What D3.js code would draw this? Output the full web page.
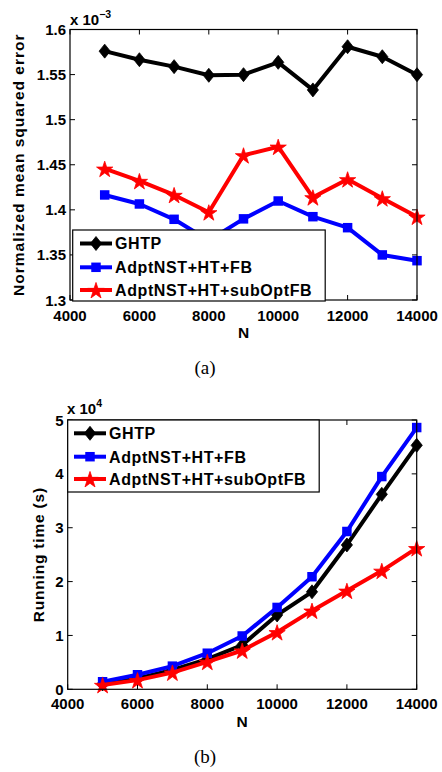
<!DOCTYPE html>
<html><head><meta charset="utf-8">
<script src="https://cdn.jsdelivr.net/npm/d3@7"></script>
<style>body{margin:0;background:#fff}svg{display:block}</style>
</head><body>
<svg id="c" width="442" height="772"></svg>
<script>
const N = [5000,6000,7000,8000,9000,10000,11000,12000,13000,14000];
const xTicks = [4000,6000,8000,10000,12000,14000];
// Top: normalized MSE (x 1e-3)
const nmseGHTP = [1.576,1.5665,1.5588,1.5492,1.5499,1.5636,1.533,1.5809,1.5698,1.5499];
const nmseFB   = [1.4165,1.4065,1.3895,1.366,1.390,1.4098,1.3924,1.3802,1.350,1.3436];
const nmseSub  = [1.4456,1.432,1.4165,1.3973,1.4605,1.470,1.4139,1.4339,1.4128,1.3924];
const nmseTicks = [1.3,1.35,1.4,1.45,1.5,1.55,1.6];
// Bottom: running time (x 1e4 s)
const timeGHTP = [0.10,0.20,0.36,0.56,0.82,1.38,1.81,2.68,3.62,4.53];
const timeFB   = [0.14,0.27,0.43,0.67,0.99,1.52,2.09,2.93,3.95,4.86];
const timeSub  = [0.08,0.17,0.31,0.51,0.72,1.06,1.46,1.83,2.20,2.62];
const timeTicks = [0,1,2,3,4,5];
const names = ["GHTP","AdptNST+HT+FB","AdptNST+HT+subOptFB"];
const colors = ["#000000","#0000ff","#ff0000"];
const shapes = ["diamond","square","star"];

const svg = d3.select("#c");
const FONT = "'Liberation Sans', Arial, Helvetica, sans-serif";

function marker(g, shape, color, x, y){
  if(shape==="diamond"){
    g.append("path").attr("d", "M0,-7L5.6,0L0,7L-5.6,0Z").attr("transform",`translate(${x},${y})`).attr("fill",color).attr("stroke",color).attr("stroke-width",0.8);
  } else if(shape==="square"){
    g.append("path").attr("d", d3.symbol(d3.symbolSquare, 90)()).attr("transform",`translate(${x},${y})`).attr("fill",color);
  } else {
    g.append("path").attr("d", d3.symbol(d3.symbolStar, 82)()).attr("transform",`translate(${x},${y+1})`).attr("fill",color).attr("stroke",color).attr("stroke-width",0.8);
  }
}

function panel(cfg){
  const {left,right,top,bottom,yDomain,yTicks,yFmt,series,ylabel,ylabelX,ylabelLS,exp,expPos,legend,xlabelY,tickY,caption,captionY} = cfg;
  const x = d3.scaleLinear().domain([4000,14000]).range([left,right]);
  const y = d3.scaleLinear().domain(yDomain).range([bottom,top]);
  const g = svg.append("g");
  const tl = 5;
  const tk = g.append("g").attr("stroke","#000").attr("stroke-width",1);
  xTicks.forEach(t=>{
    tk.append("line").attr("x1",x(t)).attr("x2",x(t)).attr("y1",bottom).attr("y2",bottom-tl);
    tk.append("line").attr("x1",x(t)).attr("x2",x(t)).attr("y1",top).attr("y2",top+tl);
  });
  yTicks.forEach(t=>{
    tk.append("line").attr("x1",left).attr("x2",left+tl).attr("y1",y(t)).attr("y2",y(t));
    tk.append("line").attr("x1",right).attr("x2",right-tl).attr("y1",y(t)).attr("y2",y(t));
  });
  const line = d3.line().x((d,i)=>x(N[i])).y(d=>y(d));
  series.forEach((s,k)=>{
    g.append("path").datum(s).attr("d",line).attr("fill","none").attr("stroke",colors[k]).attr("stroke-width",4).attr("stroke-linejoin","round");
    s.forEach((v,i)=>marker(g,shapes[k],colors[k],x(N[i]),y(v)));
  });
  g.append("rect").attr("x",left).attr("y",top).attr("width",right-left).attr("height",bottom-top).attr("fill","none").attr("stroke","#000").attr("stroke-width",1.2);
  xTicks.forEach(t=>{
    g.append("text").attr("x",x(t)).attr("y",tickY).attr("text-anchor","middle").attr("font-family",FONT).attr("font-weight","bold").attr("font-size",15).text(t);
  });
  yTicks.forEach(t=>{
    g.append("text").attr("x",left-4).attr("y",y(t)+5.5).attr("text-anchor","end").attr("font-family",FONT).attr("font-weight","bold").attr("font-size",15).text(yFmt(t));
  });
  g.append("text").attr("x",(left+right)/2).attr("y",xlabelY).attr("text-anchor","middle").attr("font-family",FONT).attr("font-weight","bold").attr("font-size",15.5).text("N");
  g.append("text").attr("transform",`translate(${ylabelX},${(top+bottom)/2}) rotate(-90)`).attr("text-anchor","middle").attr("font-family",FONT).attr("font-weight","bold").attr("font-size",15.5).attr("letter-spacing",ylabelLS).text(ylabel);
  const et = g.append("text").attr("x",expPos[0]).attr("y",expPos[1]).attr("font-family",FONT).attr("font-weight","bold").attr("font-size",15).text("x 10");
  et.append("tspan").attr("dy",-7).attr("font-size",10.5).text(exp);
  const L = legend;
  g.append("rect").attr("x",L.x).attr("y",L.y).attr("width",L.w).attr("height",L.h).attr("fill","#fff").attr("stroke","#000").attr("stroke-width",1.2);
  names.forEach((n,k)=>{
    const yy = L.rows[k];
    g.append("line").attr("x1",L.lx0).attr("x2",L.lx1).attr("y1",yy).attr("y2",yy).attr("stroke",colors[k]).attr("stroke-width",4);
    marker(g,shapes[k],colors[k],(L.lx0+L.lx1)/2,yy);
    g.append("text").attr("x",L.tx).attr("y",yy+5.8).attr("font-family",FONT).attr("font-weight","bold").attr("font-size",16).attr("letter-spacing",0.6).text(n);
  });
  svg.append("text").attr("x",205).attr("y",captionY).attr("text-anchor","middle").attr("font-family","'Liberation Serif','Times New Roman',serif").attr("font-size",19).text(caption);
}

panel({left:70,right:417,top:29.5,bottom:300,yDomain:[1.3,1.6],yTicks:nmseTicks,
  yFmt:t=>(Math.round(t*100)/100).toString(),
  series:[nmseGHTP,nmseFB,nmseSub],ylabel:"Normalized mean squared error",ylabelX:24,ylabelLS:1,
  exp:"−3",expPos:[70,25],
  legend:{x:72.7,y:230,w:252.5,h:71,rows:[243.5,267.3,290],lx0:80,lx1:112,tx:115},
  tickY:320.5,xlabelY:338,caption:"(a)",captionY:374});

panel({left:67.7,right:416.7,top:420,bottom:689.3,yDomain:[0,5],yTicks:timeTicks,
  yFmt:t=>t.toString(),
  series:[timeGHTP,timeFB,timeSub],ylabel:"Running time (s)",ylabelX:44,ylabelLS:0.8,
  exp:"4",expPos:[67,414],
  legend:{x:67.7,y:420,w:251.5,h:72,rows:[433.3,456.7,479],lx0:74,lx1:106,tx:109},
  tickY:709,xlabelY:727,caption:"(b)",captionY:763});
</script>
</body></html>
